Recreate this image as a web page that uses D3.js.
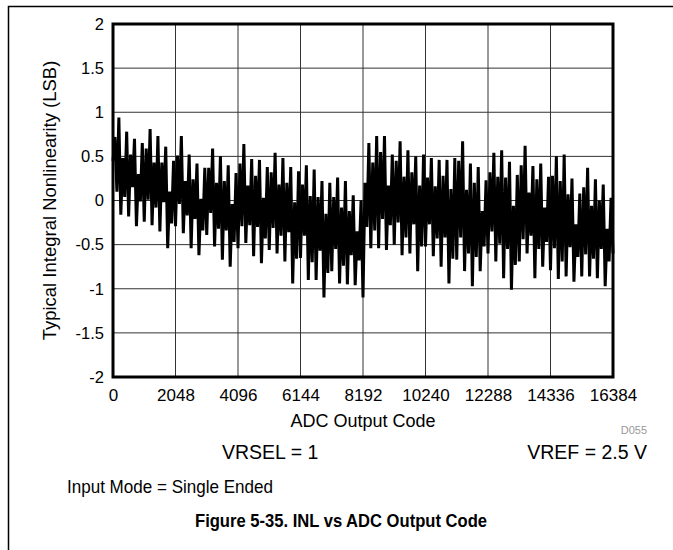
<!DOCTYPE html>
<html>
<head>
<meta charset="utf-8">
<script src="https://cdn.jsdelivr.net/npm/d3@7"></script>
<style>
  html, body { margin: 0; padding: 0; background: #fff; }
  svg { display: block; font-family: "Liberation Sans", Arial, Helvetica, sans-serif; }
</style>
</head>
<body>
<svg id="chart" width="673" height="550"></svg>
<script>
// ---------------- data ----------------
const xTickValues = [0, 2048, 4096, 6144, 8192, 10240, 12288, 14336, 16384];
const yTickValues = [-2, -1.5, -1, -0.5, 0, 0.5, 1, 1.5, 2];
const codeStep = 64; // sample spacing (codes) of the read-off trace

// INL (LSB), codes 0 .. 8128
const inlLowerHalf = [
  0.45, 0.72, 0.10, 0.94,  -0.16, 0.48, 0.04, 0.78,  -0.18, 0.52, 0.15, 0.70,  -0.29, 0.30, -0.01, 0.65,
  -0.24, 0.59, 0.01, 0.81,  -0.28, 0.43, -0.08, 0.73,  -0.35, 0.43, -0.02, 0.61,  -0.54, 0.10, -0.26, 0.45,
  -0.29, 0.51, -0.04, 0.73,  -0.37, 0.22, -0.17, 0.52,  -0.54, 0.24, -0.21, 0.42,  -0.62, 0.02, -0.34, 0.37,
  -0.39, 0.37, -0.14, 0.59,  -0.52, 0.20, -0.32, 0.50,  -0.67, 0.22, -0.34, 0.40,  -0.75, -0.04, -0.47, 0.31,
  -0.54, 0.42, -0.29, 0.64,  -0.48, 0.17, -0.28, 0.47,  -0.63, 0.28, -0.30, 0.46,  -0.71, 0.03, -0.43, 0.38,
  -0.56, 0.32, -0.31, 0.54,  -0.60, 0.18, -0.40, 0.48,  -0.69, 0.20, -0.36, 0.38,  -0.94, -0.02, -0.66, 0.33,
  -0.65, 0.18, -0.40, 0.40,  -0.90, 0.05, -0.70, 0.35,  -0.90, 0.04, -0.57, 0.22,  -1.10, -0.15, -0.82, 0.20,
  -0.80, 0.04, -0.55, 0.26,  -0.94, -0.08, -0.74, 0.22,  -0.95, -0.12, -0.62, 0.06,  -0.96, -0.35, -0.68, 0.00
];
// INL (LSB), codes 8192 .. 16384
const inlUpperHalf = [
  -1.10, 0.20, -0.30, 0.65,  -0.54, 0.43, -0.34, 0.73,  -0.54, 0.55, -0.21, 0.73,  -0.56, 0.17, -0.28, 0.52,
  -0.50, 0.45, -0.25, 0.67,  -0.62, 0.27, -0.42, 0.57,  -0.60, 0.32, -0.27, 0.50,  -0.80, 0.17, -0.52, 0.52,
  -0.52, 0.26, -0.27, 0.48,  -0.63, 0.16, -0.43, 0.46,  -0.75, 0.28, -0.42, 0.46,  -0.94, 0.13, -0.66, 0.48,
  -0.67, 0.45, -0.42, 0.67,  -0.80, 0.12, -0.60, 0.42,  -0.97, 0.20, -0.64, 0.38,  -0.80, -0.12, -0.52, 0.23,
  -0.60, 0.32, -0.35, 0.54,  -0.69, 0.27, -0.49, 0.57,  -0.88, 0.26, -0.55, 0.44,  -1.01, -0.06, -0.73, 0.29,
  -0.69, 0.40, -0.44, 0.62,  -0.60, 0.09, -0.40, 0.39,  -0.88, 0.24, -0.55, 0.42,  -0.75, -0.08, -0.47, 0.27,
  -0.79, 0.28, -0.54, 0.50,  -0.89, 0.22, -0.69, 0.52,  -0.86, 0.07, -0.53, 0.25,  -0.92, -0.27, -0.64, 0.08,
  -0.86, 0.15, -0.61, 0.37,  -0.86, -0.06, -0.66, 0.24,  -0.88, 0.00, -0.55, 0.18,  -0.97, -0.32, -0.69, 0.03,
  -0.60
];

const labels = {
  yTitle: "Typical Integral Nonlinearity (LSB)",
  xTitle: "ADC Output Code",
  code: "D055",
  vrsel: "VRSEL = 1",
  vref: "VREF = 2.5 V",
  mode: "Input Mode = Single Ended",
  caption: "Figure 5-35. INL vs ADC Output Code"
};

// ---------------- drawing ----------------
const svg = d3.select("#chart");
const plot = { left: 113, right: 613, top: 24, bottom: 377 };

const inlValues = inlLowerHalf.concat(inlUpperHalf);
const series = inlValues.map((v, i) => ({ code: i * codeStep, inl: v }));

const x = d3.scaleLinear().domain([0, 16384]).range([plot.left, plot.right]);
const y = d3.scaleLinear().domain([-2, 2]).range([plot.bottom, plot.top]);

// outer frame (top + left)
svg.append("path")
  .attr("d", `M8.5,550 L8.5,6.5 L673,6.5`)
  .attr("fill", "none").attr("stroke", "#000").attr("stroke-width", 1.5);

// grid
const grid = svg.append("g");
grid.selectAll("line.v").data(xTickValues).join("line")
  .attr("x1", d => x(d)).attr("x2", d => x(d))
  .attr("y1", plot.top).attr("y2", plot.bottom)
  .attr("stroke", "#333").attr("stroke-width", 1);
grid.selectAll("line.h").data(yTickValues).join("line")
  .attr("x1", plot.left).attr("x2", plot.right)
  .attr("y1", d => y(d)).attr("y2", d => y(d))
  .attr("stroke", "#333").attr("stroke-width", 1);

// data line
const line = d3.line().x(d => x(d.code)).y(d => y(d.inl));
svg.append("path")
  .datum(series)
  .attr("d", line)
  .attr("fill", "none")
  .attr("stroke", "#000")
  .attr("stroke-width", 3)
  .attr("stroke-linejoin", "miter")
  .attr("stroke-miterlimit", 3);

// plot border
svg.append("rect")
  .attr("x", plot.left).attr("y", plot.top)
  .attr("width", plot.right - plot.left).attr("height", plot.bottom - plot.top)
  .attr("fill", "none").attr("stroke", "#000").attr("stroke-width", 3);

// axes (labels only, via d3 axis)
const yAxis = d3.axisLeft(y).tickValues(yTickValues).tickSize(0).tickPadding(9)
  .tickFormat(d => String(d));
svg.append("g").attr("transform", `translate(${plot.left},0)`).call(yAxis)
  .call(g => g.select(".domain").remove())
  .call(g => g.selectAll("text").attr("font-size", 16.5).attr("font-family", null).attr("fill", "#000"));

const xAxis = d3.axisBottom(x).tickValues(xTickValues).tickSize(0).tickPadding(12)
  .tickFormat(d => String(d));
svg.append("g").attr("transform", `translate(0,${plot.bottom})`).call(xAxis)
  .call(g => g.select(".domain").remove())
  .call(g => g.selectAll("text").attr("font-size", 17).attr("font-family", null).attr("fill", "#000"));

// titles
svg.append("text")
  .attr("transform", `translate(56,${(plot.top + plot.bottom) / 2}) rotate(-90)`)
  .attr("text-anchor", "middle").attr("font-size", 18.5)
  .text(labels.yTitle);

svg.append("text")
  .attr("x", (plot.left + plot.right) / 2).attr("y", 427)
  .attr("text-anchor", "middle").attr("font-size", 18)
  .text(labels.xTitle);

svg.append("text")
  .attr("x", 647).attr("y", 434)
  .attr("text-anchor", "end").attr("font-size", 11).attr("fill", "#999")
  .text(labels.code);

svg.append("text")
  .attr("x", 222).attr("y", 459)
  .attr("font-size", 19.5)
  .text(labels.vrsel);

svg.append("text")
  .attr("x", 647).attr("y", 459)
  .attr("text-anchor", "end").attr("font-size", 19.5)
  .text(labels.vref);

svg.append("text")
  .attr("x", 67).attr("y", 493)
  .attr("font-size", 18.5)
  .attr("textLength", 206).attr("lengthAdjust", "spacingAndGlyphs")
  .text(labels.mode);

svg.append("text")
  .attr("x", 195).attr("y", 527)
  .attr("font-size", 18.5).attr("font-weight", "bold")
  .attr("textLength", 292).attr("lengthAdjust", "spacingAndGlyphs")
  .text(labels.caption);
</script>
</body>
</html>
